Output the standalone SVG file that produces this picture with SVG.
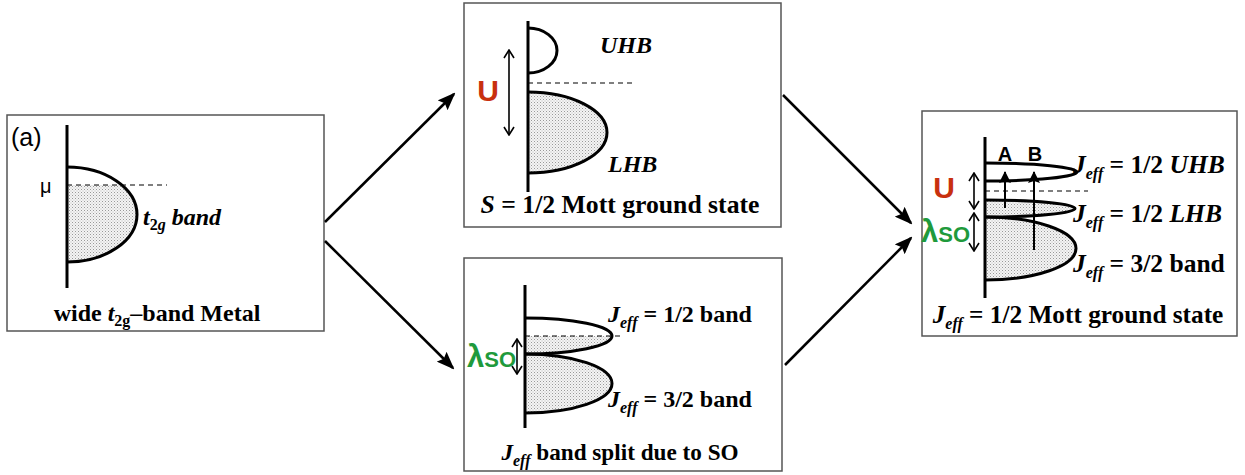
<svg xmlns="http://www.w3.org/2000/svg" width="1245" height="475" viewBox="0 0 1245 475">
<defs>
<pattern id="dots" width="3" height="3" patternUnits="userSpaceOnUse">
<rect width="3" height="3" fill="#f4f4f4"/>
<rect x="0" y="0" width="1" height="1" fill="#999"/>
<rect x="1.5" y="1.5" width="1" height="1" fill="#bbb"/>
</pattern>
<marker id="ah" markerUnits="userSpaceOnUse" markerWidth="18" markerHeight="14" viewBox="0 0 18 14" refX="16" refY="7" orient="auto">
<path d="M0,0 L18,7 L0,14 L3,7 Z" fill="#000"/>
</marker>
<marker id="up" markerUnits="userSpaceOnUse" markerWidth="12" markerHeight="12" viewBox="0 0 12 12" refX="11" refY="6" orient="auto">
<path d="M0,0 L12,6 L0,12 L2,6 Z" fill="#000"/>
</marker>
<marker id="chev" markerUnits="userSpaceOnUse" markerWidth="10" markerHeight="12" viewBox="0 0 10 12" refX="9" refY="6" orient="auto-start-reverse">
<path d="M1,1 L9,6 L1,11" fill="none" stroke="#000" stroke-width="1.6"/>
</marker>
</defs>
<style>
.box{fill:#fff;stroke:#555;stroke-width:1.5}
.ax{stroke:#000;stroke-width:3;fill:none}
.band{stroke:#000;stroke-width:3;fill:none}
.fill{fill:url(#dots);stroke:none}
.dash{stroke:#000;stroke-width:1.2;stroke-dasharray:5,4;fill:none}
.dbl{stroke:#000;stroke-width:1.6;fill:none;marker-start:url(#chev);marker-end:url(#chev)}
.conn{stroke:#000;stroke-width:2.5;fill:none;marker-end:url(#ah)}
.ab{stroke:#000;stroke-width:2;fill:none;marker-end:url(#up)}
.t{font-family:"Liberation Serif",serif;font-weight:bold;font-size:24px;fill:#000}
.i{font-style:italic}
.s{font-size:16px}
.sans{font-family:"Liberation Sans",sans-serif;fill:#000}
.U{font-family:"Liberation Sans",sans-serif;font-weight:bold;font-size:30px;fill:#c8300f}
.L{font-family:"Liberation Sans",sans-serif;font-weight:bold;fill:#1f9a3c}
</style>

<g id="metal">
<rect class="box" x="7" y="115" width="317" height="216"/>
<text class="sans" x="11" y="146" font-size="25">(a)</text>
<path class="fill" d="M67,185 L122,185 A70,47.5 0 0 1 67,262 Z"/>
<path class="band" d="M67,167 A70,47.5 0 0 1 67,262"/>
<line class="ax" x1="67" y1="125" x2="67" y2="288"/>
<line class="dash" x1="67" y1="185" x2="167" y2="185"/>
<text class="sans" x="40" y="193" font-size="20">μ</text>
<text class="t" x="143" y="225"><tspan class="i">t</tspan><tspan class="s" dy="5">2<tspan class="i">g</tspan></tspan><tspan dy="-5"> </tspan><tspan class="i">band</tspan></text>
<text class="t" x="157" y="321" text-anchor="middle">wide <tspan class="i">t</tspan><tspan class="s" dy="5">2g</tspan><tspan dy="-5">–band Metal</tspan></text>
</g>

<g id="mott">
<rect class="box" x="464" y="3" width="317" height="224"/>
<path class="band" d="M528,28 A29,22.5 0 0 1 528,73"/>
<path class="fill" d="M528,92 A79,40.5 0 0 1 528,173 Z"/>
<path class="band" d="M528,92 A79,40.5 0 0 1 528,173"/>
<line class="ax" x1="528" y1="21" x2="528" y2="192"/>
<line class="dash" x1="528" y1="83" x2="633" y2="83"/>
<line class="dbl" x1="509" y1="50" x2="509" y2="135"/>
<text class="U" x="488" y="101" text-anchor="middle">U</text>
<text class="t i" x="600" y="53">UHB</text>
<text class="t i" x="608" y="172">LHB</text>
<text class="t" x="620" y="213" text-anchor="middle" style="font-size:25.7px"><tspan class="i">S</tspan> = 1/2 Mott ground state</text>
</g>

<g id="split">
<rect class="box" x="464" y="258" width="318" height="213"/>
<path class="fill" d="M525,336 L612,336 A87,18 0 0 1 525,354 Z"/>
<path class="fill" d="M525,354 A87,29.5 0 0 1 525,413 Z"/>
<path class="band" d="M525,318 A87,18 0 0 1 525,354"/>
<path class="band" d="M525,354 A87,29.5 0 0 1 525,413"/>
<line class="ax" x1="525" y1="285" x2="525" y2="428"/>
<line class="dash" x1="525" y1="336" x2="623" y2="336"/>
<line class="dbl" x1="517" y1="339" x2="517" y2="374"/>
<text class="L" x="467" y="367"><tspan font-size="31">λ</tspan><tspan font-size="22">SO</tspan></text>
<text class="t" x="608" y="322"><tspan class="i">J</tspan><tspan class="i s" dy="6">eff</tspan><tspan dy="-6"> = 1/2 band</tspan></text>
<text class="t" x="608" y="407"><tspan class="i">J</tspan><tspan class="i s" dy="6">eff</tspan><tspan dy="-6"> = 3/2 band</tspan></text>
<text class="t" x="620" y="460" text-anchor="middle" style="font-size:23.2px"><tspan class="i">J</tspan><tspan class="i s" dy="6">eff</tspan><tspan dy="-6"> band split due to SO</tspan></text>
</g>

<g id="jeff-mott">
<rect class="box" x="922" y="111" width="315" height="225"/>
<path class="band" d="M985,163 A92,9 0 0 1 985,181"/>
<path class="fill" d="M985,200 A90,8.5 0 0 1 985,217 Z"/>
<path class="fill" d="M985,217 A91,31.5 0 0 1 985,280 Z"/>
<path class="band" d="M985,200 A90,8.5 0 0 1 985,217"/>
<path class="band" d="M985,217 A91,31.5 0 0 1 985,280"/>
<line class="ax" x1="985" y1="137" x2="985" y2="298"/>
<line class="dash" x1="985" y1="191" x2="1088" y2="191"/>
<line class="dbl" x1="974" y1="173" x2="974" y2="209"/>
<line class="dbl" x1="974" y1="213" x2="974" y2="251"/>
<line class="ab" x1="1005" y1="208" x2="1005" y2="172"/>
<line class="ab" x1="1034" y1="250" x2="1034" y2="172"/>
<text class="sans" x="1005" y="161" font-size="20" font-weight="bold" text-anchor="middle">A</text>
<text class="sans" x="1035" y="161" font-size="20" font-weight="bold" text-anchor="middle">B</text>
<text class="U" x="944" y="198" text-anchor="middle">U</text>
<text class="L" x="921" y="242"><tspan font-size="31">λ</tspan><tspan font-size="22">SO</tspan></text>
<text class="t" x="1073" y="173" style="font-size:25.5px"><tspan class="i">J</tspan><tspan class="i s" dy="6">eff</tspan><tspan dy="-6"> = 1/2 </tspan><tspan class="i">UHB</tspan></text>
<text class="t" x="1073" y="222" style="font-size:25.5px"><tspan class="i">J</tspan><tspan class="i s" dy="6">eff</tspan><tspan dy="-6"> = 1/2 </tspan><tspan class="i">LHB</tspan></text>
<text class="t" x="1073" y="272" style="font-size:25.5px"><tspan class="i">J</tspan><tspan class="i s" dy="6">eff</tspan><tspan dy="-6"> = 3/2 band</tspan></text>
<text class="t" x="1078" y="323" text-anchor="middle" style="font-size:25.3px"><tspan class="i">J</tspan><tspan class="i s" dy="6">eff</tspan><tspan dy="-6"> = 1/2 Mott ground state</tspan></text>
</g>

<g id="connectors">
<line class="conn" x1="325" y1="222" x2="454" y2="94"/>
<line class="conn" x1="325" y1="241" x2="453" y2="368"/>
<line class="conn" x1="783" y1="95" x2="911" y2="223"/>
<line class="conn" x1="785" y1="365" x2="911" y2="238"/>
</g>
</svg>
